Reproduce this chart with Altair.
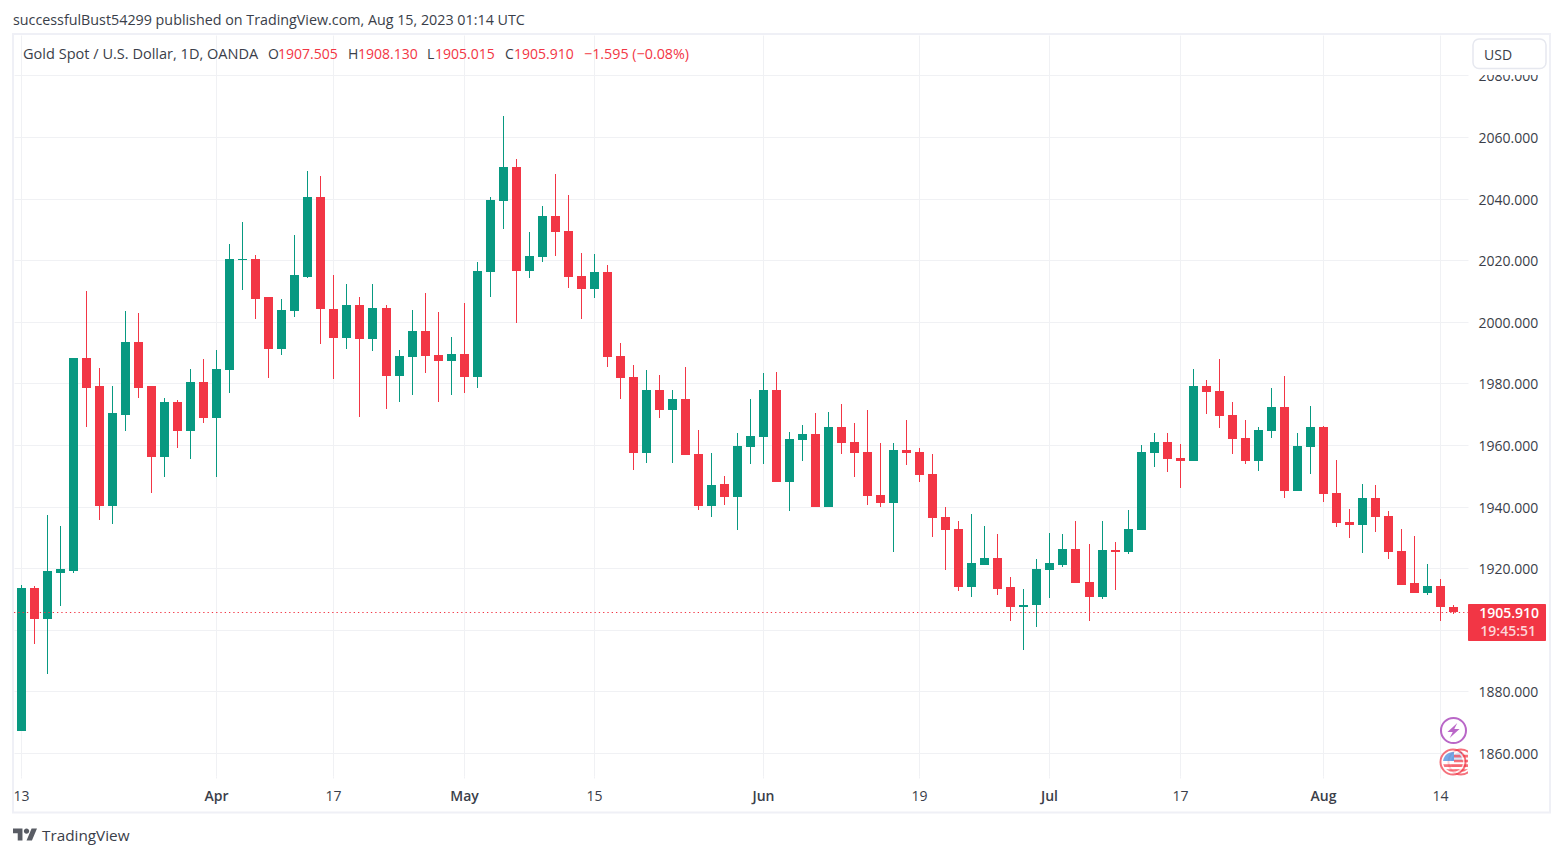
import altair as alt
import pandas as pd

opens = [1867.0,1913.7,1903.6,1918.6,1919.2,1988.4,1979.0,1940.3,1969.9,1993.6,
1979.0,1956.2,1974.1,1964.4,1980.6,1968.9,1984.2,2020.1,2020.5,2007.9,
1991.1,2003.4,2014.7,2040.4,2004.3,1994.9,2005.3,1994.5,2004.6,1982.5,
1988.7,1997.1,1989.3,1987.4,1989.7,1982.2,2016.3,2039.3,2050.4,2016.6,
2021.1,2034.5,2029.6,2015.0,2010.8,2016.3,1989.0,1982.2,1957.5,1978.0,
1971.5,1975.0,1957.2,1940.3,1947.3,1943.0,1959.3,1962.5,1977.8,1947.9,
1961.6,1963.5,1939.8,1965.8,1960.9,1957.7,1943.7,1941.1,1958.3,1957.7,
1950.5,1936.5,1932.6,1913.8,1921.2,1923.2,1913.8,1907.3,1907.9,1919.3,
1921.2,1926.1,1915.4,1910.8,1925.8,1925.2,1932.3,1957.3,1960.9,1955.7,
1954.7,1979.1,1977.5,1969.7,1962.2,1954.7,1964.5,1972.3,1945.0,1959.3,
1965.8,1944.3,1934.9,1933.9,1942.7,1936.9,1925.5,1915.1,1912.1,1914.1,1907.505]
closes = [1913.7,1903.6,1919.0,1919.6,1988.4,1978.6,1940.3,1970.3,1993.6,1978.6,
1956.2,1974.1,1964.4,1980.6,1968.9,1984.6,2020.5,2020.5,2007.5,1991.1,
2003.7,2015.1,2040.4,2004.1,1994.9,2005.3,1994.5,2004.6,1982.5,1989.0,
1997.1,1989.0,1987.4,1989.7,1982.2,2016.6,2039.7,2050.4,2016.6,2021.5,
2034.5,2029.3,2014.7,2010.8,2016.3,1988.7,1981.9,1957.5,1978.0,1971.5,
1975.0,1956.9,1940.3,1947.1,1943.0,1959.6,1962.9,1977.8,1947.9,1961.9,
1963.5,1939.8,1965.8,1960.6,1957.3,1943.4,1941.1,1958.3,1957.3,1950.2,
1936.2,1932.3,1913.8,1921.6,1923.2,1913.4,1907.3,1908.2,1919.6,1921.6,
1926.1,1915.1,1910.8,1925.8,1925.2,1932.6,1957.7,1960.9,1955.4,1954.7,
1979.1,1977.2,1969.4,1961.9,1954.7,1964.8,1972.3,1945.0,1959.6,1965.8,
1944.0,1934.6,1933.9,1942.7,1936.5,1925.1,1914.7,1912.1,1914.1,1907.3,1905.91]
highs = [1914.7,1914.3,1937.4,1933.6,1988.4,2009.9,1985.1,1979.0,2003.4,2003.0,
1979.0,1975.4,1974.5,1984.6,1987.8,1990.7,2025.1,2032.3,2021.6,2007.9,
2007.5,2028.3,2048.9,2047.5,2015.1,2012.2,2008.2,2012.4,2005.6,1991.0,
2003.9,2009.5,2003.3,1995.2,2006.2,2019.5,2040.6,2066.9,2053.0,2029.3,
2037.7,2048.1,2041.3,2022.4,2022.1,2018.5,1993.2,1986.1,1984.5,1982.8,
1978.0,1985.4,1965.0,1957.5,1949.9,1963.8,1974.9,1983.4,1983.7,1964.2,
1966.4,1970.4,1970.7,1973.3,1967.1,1971.3,1960.6,1960.6,1968.1,1959.0,
1957.0,1939.8,1935.2,1937.5,1933.6,1931.0,1917.3,1913.4,1922.9,1931.3,
1931.0,1935.2,1927.8,1935.2,1928.4,1938.8,1960.0,1963.8,1963.8,1960.3,
1984.7,1981.1,1987.9,1973.9,1968.1,1965.8,1978.5,1982.4,1963.8,1972.6,
1966.1,1955.1,1939.1,1947.3,1946.9,1938.5,1932.6,1930.4,1921.3,1916.4,1908.13]
lows = [1867.0,1895.5,1885.8,1907.6,1918.3,1966.0,1935.5,1934.5,1964.7,1975.4,
1944.3,1949.5,1958.9,1955.6,1967.0,1949.7,1977.0,2010.2,2001.0,1981.9,
1989.1,2001.4,2014.3,1992.7,1981.3,1991.3,1969.2,1990.6,1971.8,1974.1,
1976.3,1983.5,1974.1,1976.3,1977.0,1978.6,2008.2,2030.2,1999.7,2014.3,
2019.5,2021.5,2011.1,2001.0,2007.8,1985.4,1975.0,1952.0,1954.3,1968.9,
1954.3,1956.9,1939.0,1936.7,1940.4,1932.3,1953.8,1953.8,1947.9,1938.5,
1954.7,1939.8,1939.8,1957.0,1949.5,1940.4,1939.8,1925.1,1953.4,1947.9,
1930.0,1919.3,1912.5,1910.5,1921.2,1911.2,1903.0,1893.3,1900.8,1910.2,
1920.3,1915.1,1903.0,1909.9,1912.8,1924.5,1932.3,1952.8,1951.2,1946.0,
1954.7,1970.0,1965.5,1957.0,1953.8,1951.5,1962.2,1942.7,1945.0,1950.5,
1941.4,1933.3,1929.7,1924.8,1931.7,1922.9,1914.4,1912.1,1911.2,1903.0,1905.015]

tick_positions = [0, 15, 24, 34, 44, 57, 69, 79, 89, 100, 109]
tick_labels = ["13", "Apr", "17", "May", "15", "Jun", "19", "Jul", "17", "Aug", "14"]
bold_positions = [15, 34, 57, 79, 100]
price_ticks = [1860, 1880, 1900, 1920, 1940, 1960, 1980, 2000, 2020, 2040, 2060, 2080]
last_close = closes[-1]

FONT = "Open Sans"
GREEN = "#089981"
RED = "#f23645"
GRID = "#f0f1f4"
FRAME = "#eff0f6"
INK = "#3a3e49"
PLOT_L, PLOT_T, PLOT_W, PLOT_H = 14, 35, 1454, 741

df = pd.DataFrame({"i": range(len(opens)), "open": opens, "close": closes, "high": highs, "low": lows})
df["dir"] = ["up" if c >= o else "down" for o, c in zip(opens, closes)]

label_expr = "{" + ",".join(f"'{p}':'{t}'" for p, t in zip(tick_positions, tick_labels)) + "}[datum.value]"
x_scale = alt.Scale(domain=[-0.5377, 111.15], nice=False, zero=False, round=True, padding=0)
y_scale = alt.Scale(domain=[1852.532, 2093.117], nice=False, zero=False, round=True, padding=0)
color = alt.Color("dir:N", scale=alt.Scale(domain=["up", "down"], range=[GREEN, RED]), legend=None)

x_axis = alt.Axis(values=tick_positions, labelExpr=label_expr, grid=True, gridColor=GRID, gridWidth=1,
                  ticks=True, tickColor=GRID, tickSize=2, domain=False, title=None,
                  labelFont=FONT, labelFontSize=14, labelColor=INK, labelPadding=11,
                  labelAngle=0, labelOverlap=False, labelFlush=False,
                  labelFontWeight={"condition": {"test": "indexof(" + str(bold_positions) + ", datum.value) >= 0", "value": 600}, "value": 400})
y_axis = alt.Axis(values=price_ticks, format=".3f", orient="right", grid=True, gridColor=GRID, gridWidth=1,
                  ticks=False, domain=False, title=None, labelFont=FONT, labelFontSize=14, labelOffset=1,
                  labelColor=INK, labelPadding=10, labelOverlap=False, labelFlush=False)

base = alt.Chart(df)
wicks = base.mark_rule(strokeWidth=1, xOffset=0.5).encode(
    x=alt.X("i:Q", scale=x_scale, axis=x_axis),
    y=alt.Y("low:Q", scale=y_scale, axis=y_axis),
    y2="high:Q",
    color=color,
)
bodies = base.mark_bar(width=9, xOffset=0.5).encode(
    x=alt.X("i:Q", scale=x_scale),
    y=alt.Y("open:Q", scale=y_scale),
    y2="close:Q",
    color=color,
)
price_line = alt.Chart(pd.DataFrame({"p": [last_close]})).mark_rule(
    color=RED, strokeWidth=1, strokeDash=[1.3, 3], yOffset=0.5
).encode(y=alt.Y("p:Q", scale=y_scale), x=alt.value(0), x2=alt.value(PLOT_W))


def px(v):
    return alt.value(v - PLOT_L)


def py(v):
    return alt.value(v - PLOT_T)


def label(text, x, y, color=INK, align="left", weight=400, size=14):
    return alt.Chart(pd.DataFrame({"t": [text]})).mark_text(
        font=FONT, fontSize=size, color=color, align=align, baseline="middle", fontWeight=weight
    ).encode(x=px(x), y=py(y), text="t:N")


def box(x1, y1, x2, y2, **kw):
    return alt.Chart(pd.DataFrame({"a": [0]})).mark_rect(**kw).encode(
        x=px(x1), x2=px(x2), y=py(y1), y2=py(y2))


def sym(shape, x, y, size, **kw):
    return alt.Chart(pd.DataFrame({"a": [0]})).mark_point(shape=shape, size=size, **kw).encode(x=px(x), y=py(y))


FLAG_BLUE = "M0.1,-0.1 L0.1,-0.99 A1,1 0 0 0 -0.99,-0.1 Z"
FLAG_RED = ("M0.1,-0.72 H0.69 L0.88,-0.45 H0.1 Z M0.1,-0.22 H0.97 L1,0.02 H0.1 Z "
            "M-0.98,0.22 H0.98 L0.86,0.5 H-0.86 Z M-0.7,0.72 H0.7 L0.3,0.95 H-0.3 Z")
BOLT = "M0.5,-1 L-0.8,0.2 L-0.1,0.2 L-0.5,1 L0.8,-0.2 L0.1,-0.2 Z"
LOGO = ("M-1,-0.507 H-0.211 V0.507 H-0.606 V-0.113 H-1 Z "
        "M0.127,0.507 L0.549,-0.507 H1 L0.577,0.507 Z "
        "M-0.098,-0.282 A0.225,0.225 0 1 0 0.352,-0.282 A0.225,0.225 0 1 0 -0.098,-0.282 Z")

icons = [
    sym("circle", 1461, 762, 625, filled=True, fill="white", stroke=RED, strokeWidth=2, clip=True),
    sym(FLAG_BLUE, 1461, 762, 400, filled=True, fill="#3d85dc", strokeWidth=0, clip=True),
    sym(FLAG_RED, 1461, 762, 400, filled=True, fill=RED, strokeWidth=0, clip=True),
    sym("circle", 1453, 762, 625, filled=True, fill="white", stroke=RED, strokeWidth=2),
    sym(FLAG_BLUE, 1453, 762, 400, filled=True, fill="#3d85dc", strokeWidth=0),
    sym(FLAG_RED, 1453, 762, 400, filled=True, fill=RED, strokeWidth=0),
    sym("circle", 1453.5, 730.5, 625, filled=True, fill="white", stroke="#9c27b0", strokeWidth=2),
    sym(BOLT, 1453.5, 730.5, 230, filled=True, fill="#9c27b0", strokeWidth=0),
]

furniture = [
    box(13, 34, 1550, 812.5, fillOpacity=0, stroke=FRAME, strokeWidth=2),
    box(1469, 36, 1549, 75, fill="white"),
    box(1473, 39, 1546, 68.5, fill="white", stroke="#e6e8ef", strokeWidth=1.5, cornerRadius=6),
    label("USD", 1484, 55.5),
    box(1468, 604, 1546, 641, fill=RED, cornerRadius=1),
    label("1905.910", 1539, 614, color="#ffffff", align="right", weight=600),
    label("19:45:51", 1536, 632, color="#fcd5d8", align="right", weight=600),
    label("successfulBust54299 published on TradingView.com, Aug 15, 2023 01:14 UTC", 13, 20.5, size=14.3),
    label("Gold Spot / U.S. Dollar, 1D, OANDA", 23, 55, size=14.55),
    label("O", 268, 55),
    label("1907.505", 278, 55, color=RED),
    label("H", 348, 55),
    label("1908.130", 358, 55, color=RED),
    label("L", 427, 55),
    label("1905.015", 435, 55, color=RED),
    label("C", 505, 55),
    label("1905.910", 514, 55, color=RED),
    label("\u22121.595 (\u22120.08%)", 584, 55, color=RED, size=14.3),
    sym(LOGO, 25, 834.5, 576, filled=True, fill="#131722", strokeWidth=0),
    label("TradingView", 42, 835.5, color="#3a3e49", size=15.3),
]

chart = alt.layer(wicks, bodies, price_line, *icons, *furniture).resolve_scale(
    x="shared", y="shared"
).properties(
    width=PLOT_W, height=PLOT_H,
    autosize=alt.AutoSizeParams(type="none"),
    padding={"left": 6, "top": 27, "right": 84, "bottom": 70},
    background="white",
).configure_view(stroke=None)

chart.save("out.html", embed_options={"renderer": "svg", "actions": False})
